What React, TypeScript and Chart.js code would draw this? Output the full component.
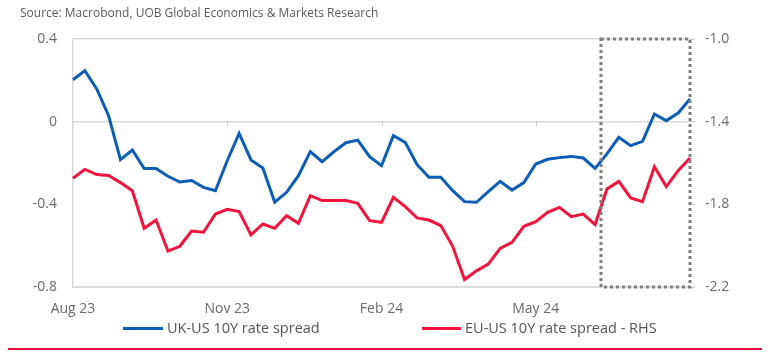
import React, { useEffect, useRef } from "react";
import { Chart, registerables } from "chart.js";

Chart.register(...registerables);

// ---- data ----
const CATEGORIES = [
  "2023-08-04", "2023-08-11", "2023-08-18", "2023-08-25", "2023-09-01", "2023-09-08", "2023-09-15",
  "2023-09-22", "2023-09-29", "2023-10-06", "2023-10-13", "2023-10-20", "2023-10-27", "2023-11-03",
  "2023-11-10", "2023-11-17", "2023-11-24", "2023-12-01", "2023-12-08", "2023-12-15", "2023-12-22",
  "2023-12-29", "2024-01-05", "2024-01-12", "2024-01-19", "2024-01-26", "2024-02-02", "2024-02-09",
  "2024-02-16", "2024-02-23", "2024-03-01", "2024-03-08", "2024-03-15", "2024-03-22", "2024-03-29",
  "2024-04-05", "2024-04-12", "2024-04-19", "2024-04-26", "2024-05-03", "2024-05-10", "2024-05-17",
  "2024-05-24", "2024-05-31", "2024-06-07", "2024-06-14", "2024-06-21", "2024-06-28", "2024-07-05",
  "2024-07-12", "2024-07-19", "2024-07-26", "2024-08-02",
];

const UK_US_SPREAD = [
  0.203, 0.247, 0.158, 0.029, -0.184, -0.137, -0.227, -0.227, -0.264, -0.292, -0.285, -0.318, -0.334,
  -0.189, -0.057, -0.185, -0.224, -0.39, -0.342, -0.261, -0.145, -0.194, -0.145, -0.102, -0.089,
  -0.169, -0.213, -0.068, -0.1, -0.208, -0.269, -0.269, -0.334, -0.387, -0.39, -0.339, -0.289,
  -0.331, -0.295, -0.205, -0.182, -0.174, -0.168, -0.176, -0.226, -0.156, -0.076, -0.116, -0.095,
  0.037, 0.005, 0.042, 0.11,
];

const EU_US_SPREAD = [
  -1.674, -1.631, -1.656, -1.66, -1.695, -1.734, -1.916, -1.876, -2.026, -2.003, -1.929, -1.935,
  -1.847, -1.824, -1.835, -1.948, -1.895, -1.916, -1.855, -1.892, -1.758, -1.782, -1.782, -1.782,
  -1.795, -1.879, -1.887, -1.766, -1.811, -1.866, -1.876, -1.903, -2.003, -2.164, -2.122, -2.089,
  -2.013, -1.984, -1.906, -1.884, -1.839, -1.815, -1.86, -1.847, -1.898, -1.726, -1.689, -1.769,
  -1.787, -1.618, -1.714, -1.637, -1.576,
];

const TICK_DATES = ["2023-08-04", "2023-11-03", "2024-02-02", "2024-05-03"];
const TICK_TEXT = ["Aug 23", "Nov 23", "Feb 24", "May 24"];

const LEFT_AXIS = { min: -0.8, max: 0.4, step: 0.4 };
const RIGHT_AXIS = { min: -2.2, max: -1.0, step: 0.4 };
const LEFT_GRID_VALUES = [0.4, 0];

const HIGHLIGHT_FROM = 44.5;
const HIGHLIGHT_TO = 52;

const SERIES_NAMES = ["UK-US 10Y rate spread", "EU-US 10Y rate spread - RHS"];
const SOURCE = "Source: Macrobond, UOB Global Economics & Markets Research";

const BLUE = "#0b5db6";
const RED = "#f2143d";
const FONT = "'Open Sans', 'DejaVu Sans', sans-serif";

const decorPlugin = {
  id: "decor",
  afterDatasetsDraw(chart: any) {
    const { ctx, chartArea, scales } = chart;
    const x = scales.x;
    const y = scales.y;
    ctx.save();
    // small x tick marks on the zero line
    const y0 = y.getPixelForValue(0);
    ctx.strokeStyle = "#cfcfcf";
    ctx.lineWidth = 1;
    TICK_DATES.forEach((d) => {
      const idx = CATEGORIES.indexOf(d);
      if (idx <= 0) return;
      const px = Math.round(x.getPixelForValue(idx)) + 0.5;
      ctx.beginPath();
      ctx.moveTo(px, y0);
      ctx.lineTo(px, y0 + 5);
      ctx.stroke();
    });
    // dotted highlight box
    const x1 = x.getPixelForValue(HIGHLIGHT_FROM);
    const x2 = x.getPixelForValue(HIGHLIGHT_TO);
    ctx.strokeStyle = "#7f7f7f";
    ctx.lineWidth = 3;
    ctx.setLineDash([3, 3]);
    ctx.strokeRect(x1, chartArea.top, x2 - x1, chartArea.bottom - chartArea.top);
    ctx.restore();
  },
};

export default function App() {
  const ref = useRef<HTMLCanvasElement>(null);

  useEffect(() => {
    document.body.style.margin = "0";
    const canvas = ref.current!;
    const chart = new Chart(canvas, {
      type: "line",
      data: {
        labels: CATEGORIES,
        datasets: [
          {
            label: SERIES_NAMES[0],
            data: UK_US_SPREAD,
            borderColor: BLUE,
            backgroundColor: BLUE,
            borderWidth: 3,
            pointRadius: 0,
            tension: 0,
            yAxisID: "y",
          },
          {
            label: SERIES_NAMES[1],
            data: EU_US_SPREAD,
            borderColor: RED,
            backgroundColor: RED,
            borderWidth: 3,
            pointRadius: 0,
            tension: 0,
            yAxisID: "y1",
          },
        ],
      },
      options: {
        animation: false,
        responsive: false,
        devicePixelRatio: 1,
        layout: { padding: { top: 39, left: 0, right: 0, bottom: 0 } },
        plugins: { legend: { display: false }, tooltip: { enabled: false } },
        scales: {
          x: {
            type: "category",
            offset: false,
            grid: { display: false, drawTicks: false },
            border: { display: true, color: "#dcdcdc", width: 2 },
            ticks: {
              autoSkip: false,
              maxRotation: 0,
              padding: 14,
              color: "#6b6b6b",
              font: { family: FONT, size: 14 },
              callback: (v: any, i: number) => {
                const k = TICK_DATES.indexOf(CATEGORIES[i]);
                return k >= 0 ? TICK_TEXT[k] : "";
              },
            },
            afterFit: (s: any) => {
              s.height = 73;
            },
          },
          y: {
            position: "left",
            min: LEFT_AXIS.min,
            max: LEFT_AXIS.max,
            grid: {
              drawTicks: false,
              color: (c: any) =>
                LEFT_GRID_VALUES.some((g) => Math.abs(c.tick.value - g) < 1e-6) ? "#d9d9d9" : "rgba(0,0,0,0)",
              lineWidth: 1.5,
            },
            border: { display: true, color: "#d9d9d9", width: 1.5 },
            ticks: {
              stepSize: LEFT_AXIS.step,
              padding: 16,
              color: "#6b6b6b",
              font: { family: FONT, size: 14 },
              callback: (v: any) => (Math.abs(v) < 1e-9 ? "0" : Number(v).toFixed(1)),
            },
            afterFit: (s: any) => {
              s.width = 73;
            },
          },
          y1: {
            position: "right",
            min: RIGHT_AXIS.min,
            max: RIGHT_AXIS.max,
            grid: { drawOnChartArea: false, drawTicks: true, tickLength: 5, color: "#c8c8c8" },
            border: { display: false },
            ticks: {
              stepSize: RIGHT_AXIS.step,
              padding: 10,
              color: "#6b6b6b",
              font: { family: FONT, size: 14 },
              callback: (v: any) => Number(v).toFixed(1),
            },
            afterFit: (s: any) => {
              s.width = 82;
            },
          },
        },
      },
      plugins: [decorPlugin],
    });
    return () => chart.destroy();
  }, []);

  const legendText: React.CSSProperties = {
    position: "absolute",
    top: 318,
    fontFamily: FONT,
    fontSize: 14.5,
    color: "#555",
    lineHeight: "20px",
    whiteSpace: "nowrap",
  };
  const bar = (left: number, width: number, color: string): React.CSSProperties => ({
    position: "absolute",
    left,
    top: 327,
    width,
    height: 3,
    background: color,
  });

  return (
    <div style={{ position: "relative", width: 772, height: 360, overflow: "hidden", background: "#fff" }}>
      <canvas ref={ref} width={772} height={360} style={{ display: "block", width: 772, height: 360 }} />
      <div
        style={{
          position: "absolute",
          left: 20,
          top: 4,
          fontFamily: FONT,
          fontSize: 12,
          color: "#5a5a5a",
          whiteSpace: "nowrap",
        }}
      >
        {SOURCE}
      </div>
      <div style={bar(123, 40, BLUE)} />
      <div style={{ ...legendText, left: 167 }}>{SERIES_NAMES[0]}</div>
      <div style={bar(422, 39, RED)} />
      <div style={{ ...legendText, left: 465 }}>{SERIES_NAMES[1]}</div>
      <div style={{ position: "absolute", left: 8, top: 348, width: 754, height: 1.5, background: "#e0103a" }} />
    </div>
  );
}
